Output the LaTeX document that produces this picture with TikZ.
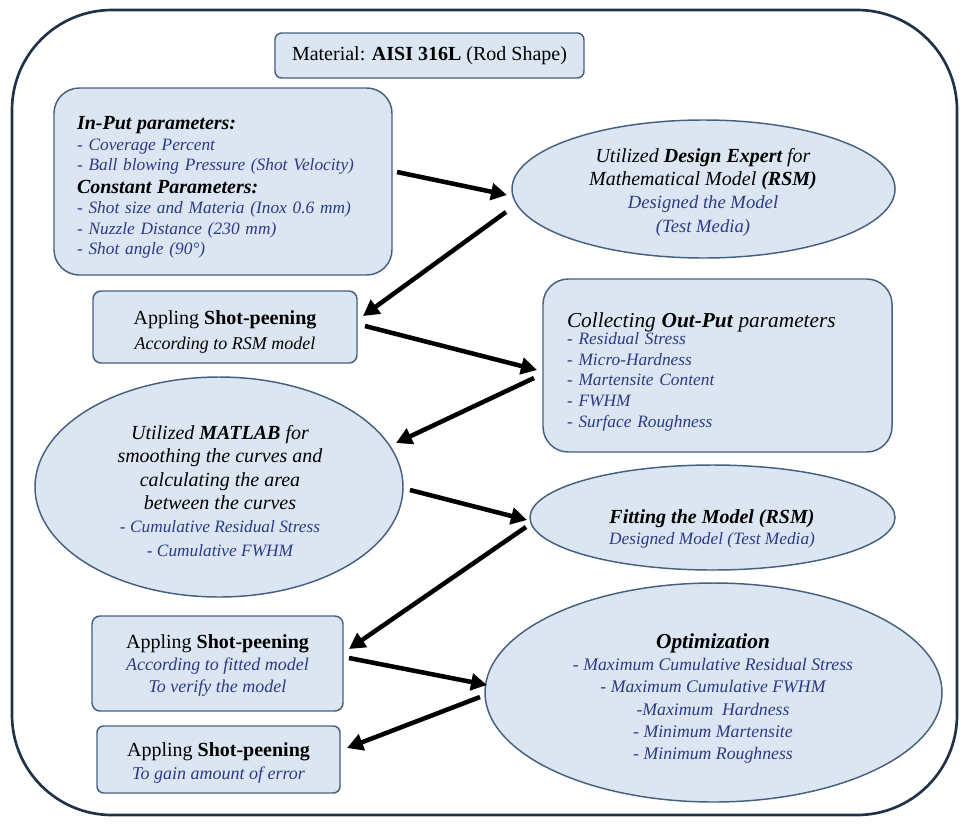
\documentclass[tikz,border=0pt]{standalone}
\usepackage{fontspec}
\setmainfont{Liberation Serif}
\usetikzlibrary{shapes.geometric,arrows.meta,calc}
\definecolor{boxfill}{HTML}{DCE6F2}
\definecolor{boxline}{HTML}{46607F}
\definecolor{txtblue}{HTML}{2B3A85}
\definecolor{frameline}{HTML}{1F3248}
\newcommand\fsz[2]{\fontsize{#1}{#2}\selectfont}
\newcommand\bluit[1]{{\color{txtblue}\itshape #1}}
\begin{document}
\begin{tikzpicture}[x=0.75pt,y=-0.75pt,
 every node/.style={inner sep=0pt,outer sep=0pt},
 shp/.style={draw=boxline,fill=boxfill,line width=1.1pt},
 sz/.style 2 args={minimum width=#1*0.75pt,minimum height=#2*0.75pt},
 rbox/.style={shp,rectangle,rounded corners=#1},
 ell/.style={shp,ellipse},
 arr/.style={line width=3.4pt,-{Triangle[length=12pt,width=12.5pt]}},
 ]
\useasboundingbox (0,0) rectangle (969,828);
\draw[frameline,line width=2pt,rounded corners=75pt] (12,10) rectangle (957,815);

\node[rbox=5pt,sz={309}{45},font=\fsz{15}{18}] (mat) at (429.5,55.5) {Material: \textbf{AISI 316L} (Rod Shape)};

\node[rbox=19pt,sz={338}{187}] (inp) at (223,181.5) {};
\node[text width=219pt,align=left,font=\fsz{13}{15.4}] (inpT) at (223,187.5)
 {{\fsz{15}{15.4}\bfseries\itshape In-Put parameters:}\\
  \bluit{- Coverage Percent}\\
  \bluit{- Ball blowing Pressure (Shot Velocity)}\\[1.5pt]
  {\fsz{15}{15.4}\bfseries\itshape Constant Parameters:}\\
  \bluit{- Shot size and Materia (Inox 0.6 mm)}\\
  \bluit{- Nuzzle Distance (230 mm)}\\
  \bluit{- Shot angle (90°)}};

\node[ell,sz={383}{138}] (de) at (703.5,189) {};
\node[align=center,font=\fsz{15}{17.5}\itshape] (deT) at (703,192)
 {Utilized \textbf{Design Expert} for\\
  Mathematical Model \textbf{(RSM)}\\
  {\color{txtblue}\fsz{14}{17.5}Designed the Model}\\
  {\color{txtblue}\fsz{14}{17.5}(Test Media)}};

\node[rbox=6pt,sz={264}{72}] (ap1) at (225,327) {};
\node[align=center,font=\fsz{15}{18.75}] (ap1T) at (225,332)
 {Appling \textbf{Shot-peening}\\ {\itshape\fsz{13.5}{18.75}According to RSM model}};

\node[rbox=19pt,sz={349}{173}] (col) at (717.5,365.5) {};
\node[text width=225.75pt,align=left,font=\fsz{13}{15.4}] (colT) at (717.5,371.5)
 {{\fsz{16}{15.4}\itshape Collecting \textbf{Out-Put} parameters}\\[-2pt]
  \bluit{- Residual Stress}\\
  \bluit{- Micro-Hardness}\\
  \bluit{- Martensite Content}\\
  \bluit{- FWHM}\\
  \bluit{- Surface Roughness}};

\node[ell,sz={368}{220}] (mtl) at (219,487) {};
\node[align=center,font=\fsz{15}{17.5}\itshape] (mtlT) at (220,491)
 {Utilized \textbf{MATLAB} for\\
  smoothing the curves and\\
  calculating the area\\
  between the curves\\
  {\color{txtblue}\fsz{13}{17.5}- Cumulative Residual Stress}\\
  {\color{txtblue}\fsz{13}{17.5}- Cumulative FWHM}};

\node[ell,sz={365}{105}] (fit) at (712.5,517.5) {};
\node[align=center,font=\fsz{15}{15.75}] (fitT) at (712,529)
 {\textbf{\itshape Fitting the Model (RSM)}\\
  \bluit{\fsz{13}{15.75}Designed Model (Test Media)}};

\node[rbox=6pt,sz={251}{95}] (ap2) at (217.5,663.5) {};
\node[align=center,font=\fsz{15}{16.5}] (ap2T) at (217.5,665.5)
 {Appling \textbf{Shot-peening}\\
  \bluit{\fsz{13.5}{16.5}According to fitted model}\\
  \bluit{\fsz{13.5}{16.5}To verify the model}};

\node[ell,sz={457}{219}] (opt) at (713.5,692.5) {};
\node[align=center,font=\fsz{13.3}{16.6}] (optT) at (713,698.5)
 {{\fsz{16}{16.6}\bfseries\itshape Optimization}\\
  \bluit{- Maximum Cumulative Residual Stress}\\
  \bluit{- Maximum Cumulative FWHM}\\
  \bluit{-Maximum\ \ Hardness}\\
  \bluit{- Minimum Martensite}\\
  \bluit{- Minimum Roughness}};

\node[rbox=5pt,sz={243}{67}] (ap3) at (218.5,759.5) {};
\node[align=center,font=\fsz{15}{17}] (ap3T) at (218.5,763)
 {Appling \textbf{Shot-peening}\\
  \bluit{\fsz{13.5}{17}To gain amount of error}};

\draw[arr] ($(inp.east)+(5,-9.5)$) -- ($(de.west)+(-5,6)$);
\draw[arr] ($(de.west)+(-6,23)$) -- ($(ap1.east)+(6,-11)$);
\draw[arr] ($(ap1.east)+(8,-1)$) -- ($(col.west)+(-6,4.5)$);
\draw[arr] ($(col.west)+(-9,12.5)$) -- ($(mtl.east)+(-7,-44)$);
\draw[arr] ($(mtl.east)+(7,3)$) -- ($(fit.west)+(-3,2.5)$);
\draw[arr] ($(fit.west)+(-4,9.5)$) -- ($(ap2.east)+(6,-14.5)$);
\draw[arr] ($(ap2.east)+(6,-5.5)$) -- ($(opt.west)+(2,-7.5)$);
\draw[arr] ($(opt.west)+(-5,4.5)$) -- ($(ap3.east)+(7,-11.5)$);
\end{tikzpicture}
\end{document}
